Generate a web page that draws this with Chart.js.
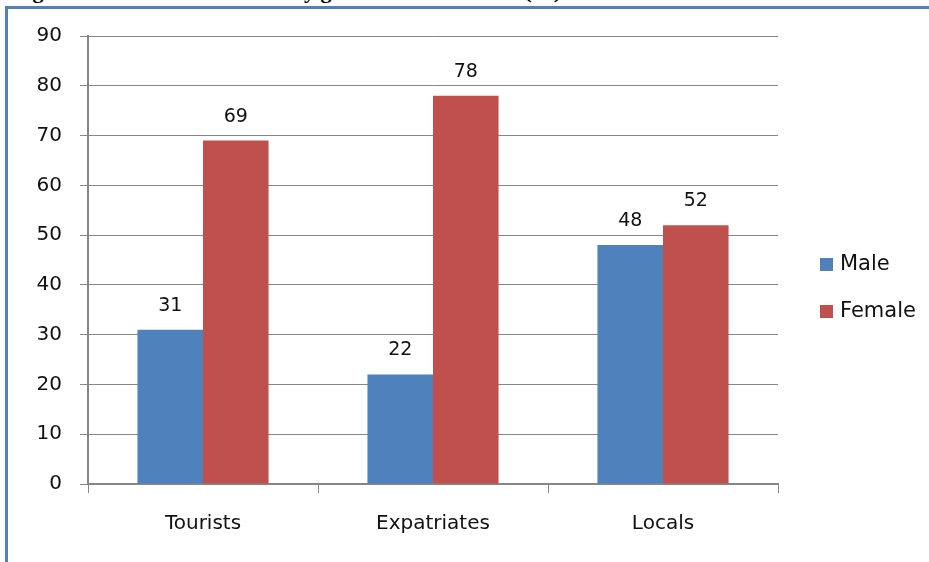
<!DOCTYPE html>
<html lang="en">
<head>
  <meta charset="UTF-8" />
  <title>Gender by residence</title>
  <style>
    body {
      margin: 0;
      background: #fff;
      width: 929px;
      height: 562px;
      overflow: hidden;
      position: relative;
      font-family: 'DejaVu Sans', sans-serif;
    }
    .title {
      position: absolute;
      left: 13px;
      top: -20px;
      font-family: 'Liberation Serif', serif;
      font-weight: bold;
      font-size: 22px;
      line-height: 22px;
      white-space: nowrap;
      color: #000;
    }
    .frame {
      position: absolute;
      left: 5px;
      top: 6px;
      width: 1000px;
      height: 700px;
      border-left: 3px solid #4f81bd;
      border-top: 3px solid #4f81bd;
    }
    .wrap {
      position: absolute;
      left: 0;
      top: 0;
      width: 929px;
      height: 562px;
    }
  </style>
</head>
<body>
  <div class="title">Figure 1: Gender breakdown by gender and residence (%)</div>
  <div class="frame"></div>
  <div class="wrap"><canvas id="chart"></canvas></div>

  <script src="https://cdn.jsdelivr.net/npm/chart.js"></script>
  <script>
    const categories = ['Tourists', 'Expatriates', 'Locals'];
    const maleValues = [31, 22, 48];
    const femaleValues = [69, 78, 52];
    const yTicks = [0, 10, 20, 30, 40, 50, 60, 70, 80, 90];

    const gridColor = '#868686';
    const textColor = '#111';
    const font = { family: "'DejaVu Sans', sans-serif", size: 20 };

    // numbers above each bar
    const valueLabels = {
      id: 'valueLabels',
      afterDatasetsDraw(chart) {
        const ctx = chart.ctx;
        ctx.save();
        ctx.font = "19px 'DejaVu Sans', sans-serif";
        ctx.fillStyle = textColor;
        ctx.textAlign = 'center';
        ctx.textBaseline = 'alphabetic';
        chart.data.datasets.forEach((ds, i) => {
          chart.getDatasetMeta(i).data.forEach((bar, j) => {
            ctx.fillText(ds.data[j], bar.x, bar.y - 19);
          });
        });
        ctx.restore();
      }
    };

    // legend on the right, placed like the original
    const sideLegend = {
      id: 'sideLegend',
      afterDraw(chart) {
        const ctx = chart.ctx;
        ctx.save();
        ctx.font = "21px 'DejaVu Sans', sans-serif";
        ctx.textBaseline = 'middle';
        ctx.textAlign = 'left';
        chart.data.datasets.forEach((ds, i) => {
          const cy = 264 + i * 47;
          ctx.fillStyle = ds.backgroundColor;
          ctx.fillRect(820, cy - 6, 13, 13);
          ctx.fillStyle = textColor;
          ctx.fillText(ds.label, 840, cy + 1);
        });
        ctx.restore();
      }
    };

    new Chart(document.getElementById('chart'), {
      type: 'bar',
      data: {
        labels: categories,
        datasets: [
          { label: 'Male', data: maleValues, backgroundColor: '#4f81bd' },
          { label: 'Female', data: femaleValues, backgroundColor: '#c0504d' }
        ]
      },
      options: {
        responsive: true,
        maintainAspectRatio: false,
        animation: false,
        layout: { padding: { left: 28, top: 36, right: 151, bottom: 0 } },
        categoryPercentage: 0.57,
        barPercentage: 1.0,
        plugins: {
          legend: { display: false },
          tooltip: { enabled: false }
        },
        scales: {
          x: {
            afterFit(scale) { scale.height = 78; },
            grid: {
              display: true,
              drawOnChartArea: false,
              drawTicks: true,
              tickLength: 9,
              color: gridColor,
              offset: true
            },
            border: { color: gridColor, width: 2 },
            ticks: { color: textColor, font: font, padding: 19 }
          },
          y: {
            min: 0,
            max: 90,
            afterFit(scale) { scale.width = 60; },
            afterBuildTicks(scale) { scale.ticks = yTicks.map(v => ({ value: v })); },
            grid: { color: gridColor, tickLength: 8 },
            border: { color: gridColor, width: 2 },
            ticks: { color: textColor, font: font, padding: 18 }
          }
        }
      },
      plugins: [valueLabels, sideLegend]
    });
  </script>
</body>
</html>
